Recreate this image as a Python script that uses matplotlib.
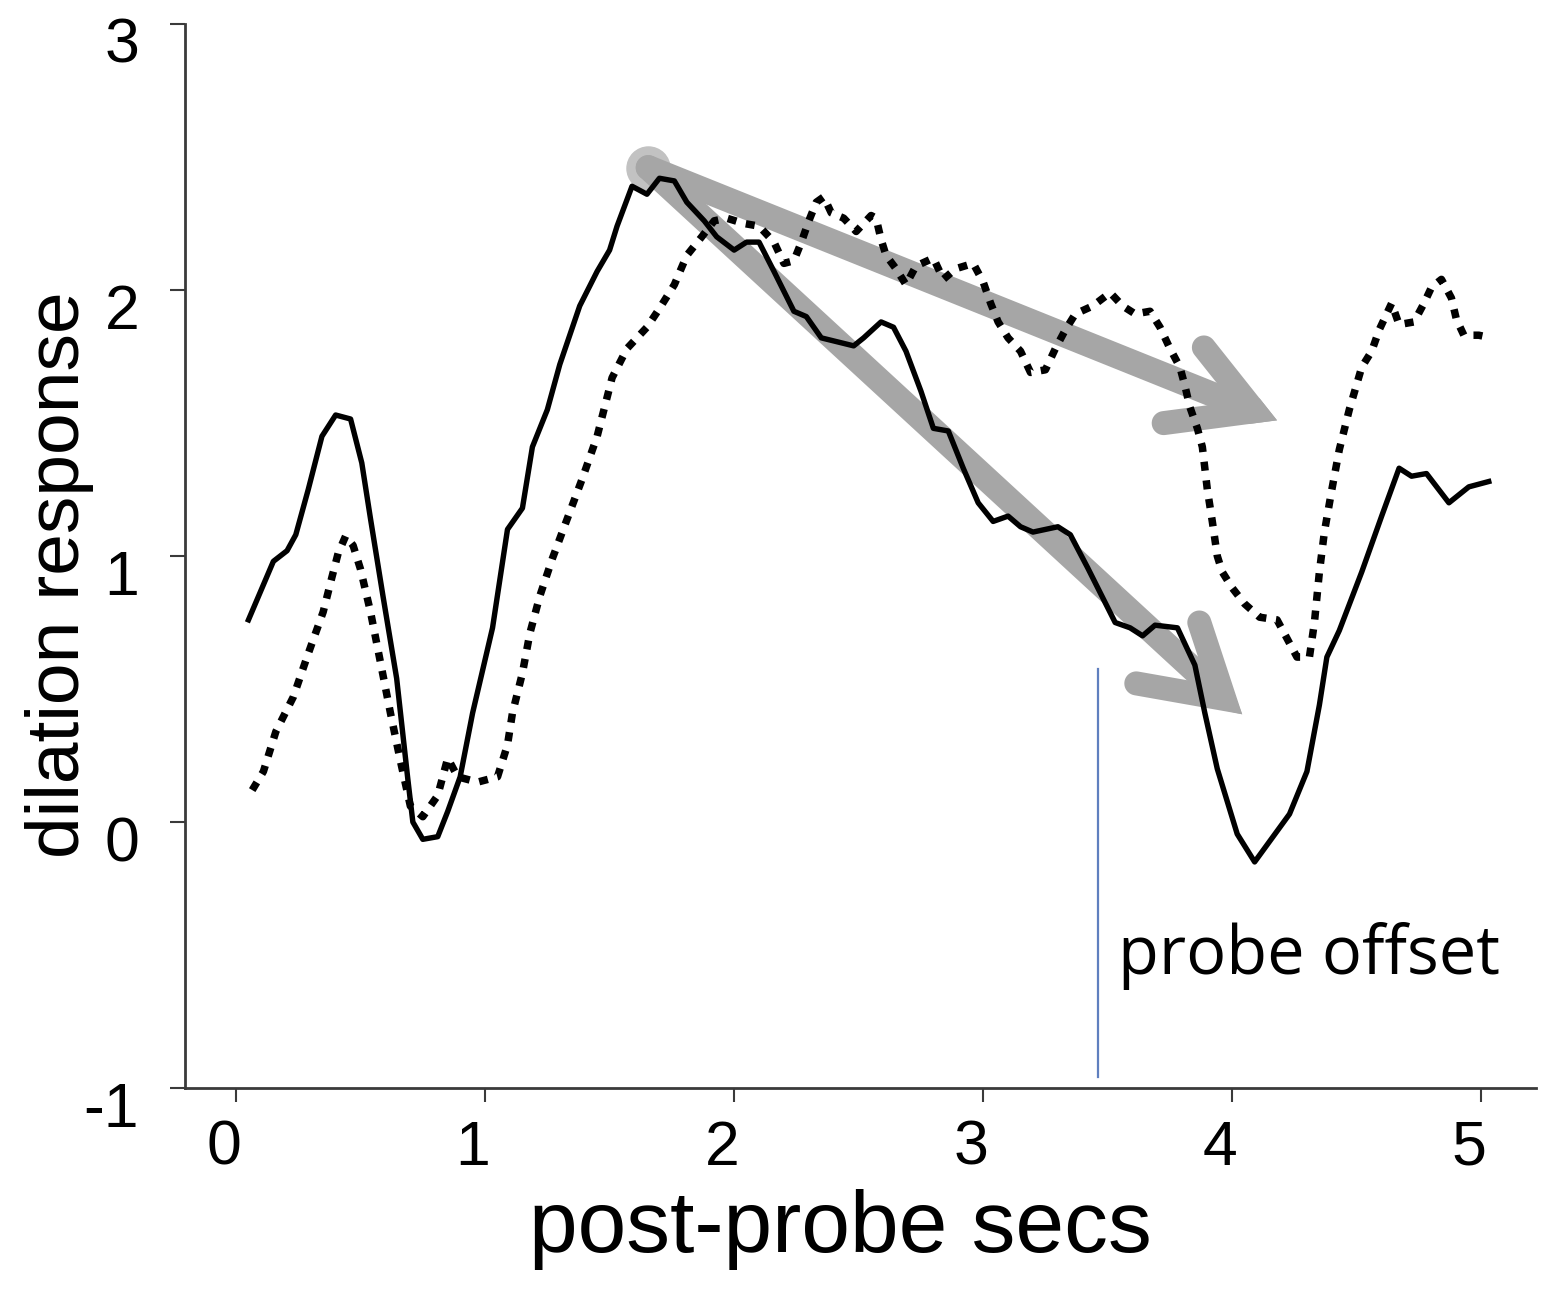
import numpy as np
import matplotlib
matplotlib.use("Agg")
import matplotlib.pyplot as plt
from matplotlib.patches import Polygon
from matplotlib.transforms import ScaledTranslation

# solid trace
solid_x = [0.05, 0.15, 0.205, 0.24, 0.29, 0.345, 0.40, 0.46, 0.505, 0.54, 0.59, 0.645,
           0.69, 0.71, 0.75, 0.81, 0.85, 0.90, 0.95, 1.03, 1.09, 1.15, 1.19, 1.25, 1.30,
           1.38, 1.45, 1.50, 1.53, 1.59, 1.65, 1.70, 1.76, 1.81, 1.88, 1.93, 2.00, 2.05,
           2.10, 2.16, 2.24, 2.29, 2.35, 2.48, 2.52, 2.59, 2.64, 2.69, 2.75, 2.80, 2.86,
           2.92, 2.98, 3.04, 3.10, 3.15, 3.20, 3.30, 3.35, 3.42, 3.53, 3.59, 3.64, 3.69,
           3.78, 3.85, 3.89, 3.94, 4.02, 4.09, 4.16, 4.23, 4.30, 4.35, 4.38, 4.43, 4.52,
           4.60, 4.67, 4.72, 4.78, 4.87, 4.95, 5.03]
solid_y = [0.76, 0.98, 1.02, 1.08, 1.25, 1.45, 1.53, 1.515, 1.35, 1.14, 0.85, 0.54,
           0.16, 0.00, -0.065, -0.055, 0.04, 0.17, 0.41, 0.73, 1.10, 1.18, 1.41, 1.55, 1.72,
           1.94, 2.07, 2.15, 2.24, 2.39, 2.36, 2.42, 2.41, 2.33, 2.26, 2.20, 2.15, 2.18,
           2.18, 2.07, 1.92, 1.90, 1.82, 1.79, 1.82, 1.88, 1.86, 1.77, 1.62, 1.48, 1.47,
           1.33, 1.20, 1.13, 1.15, 1.11, 1.09, 1.11, 1.08, 0.955, 0.75, 0.73, 0.70, 0.74,
           0.73, 0.59, 0.41, 0.20, -0.045, -0.15, -0.06, 0.03, 0.19, 0.44, 0.62, 0.72, 0.94,
           1.15, 1.33, 1.30, 1.31, 1.20, 1.26, 1.28]

# dotted trace
dot_x = [0.065, 0.11, 0.16, 0.23, 0.285, 0.35, 0.385, 0.41, 0.44, 0.47, 0.50, 0.54,
         0.58, 0.62, 0.66, 0.70, 0.75, 0.81, 0.85, 0.89, 0.97, 1.05, 1.09, 1.11, 1.15,
         1.18, 1.22, 1.27, 1.33, 1.39, 1.45, 1.51, 1.57, 1.65, 1.70, 1.76, 1.81, 1.87,
         1.92, 1.97, 2.04, 2.10, 2.16, 2.20, 2.24, 2.27, 2.30, 2.33, 2.36, 2.39, 2.44,
         2.49, 2.55, 2.57, 2.59, 2.61, 2.65, 2.69, 2.73, 2.80, 2.84, 2.89, 2.96, 3.00,
         3.03, 3.06, 3.10, 3.15, 3.19, 3.25, 3.29, 3.33, 3.37, 3.44, 3.51, 3.56, 3.61,
         3.67, 3.71, 3.75, 3.79, 3.81, 3.83, 3.86, 3.88, 3.89, 3.90, 3.92, 3.94, 3.96,
         4.00, 4.05, 4.11, 4.18, 4.22, 4.26, 4.31, 4.33, 4.35, 4.37, 4.40, 4.43, 4.47,
         4.52, 4.56, 4.59, 4.64, 4.67, 4.73, 4.77, 4.80, 4.84, 4.88, 4.90, 4.93, 4.99, 5.04]
dot_y = [0.12, 0.19, 0.34, 0.47, 0.62, 0.79, 0.92, 1.01, 1.075, 1.04, 0.95, 0.79,
         0.60, 0.41, 0.23, 0.06, 0.02, 0.10, 0.24, 0.17, 0.15, 0.17, 0.29, 0.41, 0.56,
         0.71, 0.85, 0.99, 1.14, 1.29, 1.45, 1.67, 1.78, 1.86, 1.93, 2.02, 2.13, 2.20,
         2.26, 2.27, 2.25, 2.24, 2.18, 2.10, 2.11, 2.18, 2.26, 2.33, 2.35, 2.29, 2.27,
         2.22, 2.28, 2.27, 2.19, 2.13, 2.08, 2.02, 2.09, 2.12, 2.04, 2.08, 2.10, 2.03,
         1.95, 1.88, 1.82, 1.77, 1.69, 1.70, 1.78, 1.85, 1.91, 1.94, 1.99, 1.94, 1.91,
         1.92, 1.86, 1.78, 1.71, 1.64, 1.56, 1.48, 1.41, 1.33, 1.25, 1.13, 1.00, 0.94,
         0.88, 0.82, 0.77, 0.76, 0.69, 0.62, 0.62, 0.75, 0.94, 1.09, 1.25, 1.40, 1.55,
         1.71, 1.77, 1.85, 1.95, 1.87, 1.88, 1.95, 2.01, 2.04, 1.97, 1.89, 1.83, 1.83, 1.82]

# annotation arrows: start, tip, two head arms (back ends)
arrow_start = (1.655, 2.46)
upper_tip = (4.18, 1.51)
upper_arms = [(3.89, 1.78), (3.73, 1.50)]
lower_tip = (4.04, 0.405)
lower_arms = [(3.87, 0.745), (3.62, 0.52)]

probe_offset_x = 3.46
xticks = [0, 1, 2, 3, 4, 5]
yticks = [-1, 0, 1, 2, 3]

fig = plt.figure(figsize=(15.53, 12.89), dpi=100)
ax = fig.add_axes([0.1191, 0.1559, 0.870, 0.8255])
ax.set_xlim(-0.205, 5.22)
ax.set_ylim(-1, 3)

gray = "#a6a6a6"


def to_px(p):
    return ax.transData.transform(p)


def head_arm(back, other_back, tip, w=24):
    # band of width w with a round back end; its outer edge runs into the sharp tip
    b, o, t = to_px(back), to_px(other_back), to_px(tip)
    e0 = (t - b) / np.hypot(*(t - b))
    m0 = np.array([-e0[1], e0[0]])
    if np.dot(m0, o - b) < 0:
        m0 = -m0
    p_out = b - m0 * w / 2
    e = (t - p_out) / np.hypot(*(t - p_out))
    m = np.array([-e[1], e[0]])
    if np.dot(m, m0) < 0:
        m = -m
    t_in = t + m * w - e * w * 0.6
    c = p_out + m * w / 2
    ang = np.linspace(0, np.pi, 24)
    cap = [c + (np.cos(a) * m - np.sin(a) * e) * w / 2 for a in ang]
    pts = np.array([t, t_in] + cap + [p_out])
    ax.add_patch(Polygon(ax.transData.inverted().transform(pts), closed=True,
                         fc=gray, ec="none", zorder=2))


ax.plot([arrow_start[0]], [arrow_start[1]], "o", color="#c2c2c2", ms=31, zorder=1)
for tip, arms in [(upper_tip, upper_arms), (lower_tip, lower_arms)]:
    s, t = to_px(arrow_start), to_px(tip)
    e = (t - s) / np.hypot(*(t - s))
    shaft_end = ax.transData.inverted().transform(t - e * 40)
    ax.plot([arrow_start[0], shaft_end[0]], [arrow_start[1], shaft_end[1]], color=gray,
            lw=18, solid_capstyle="round", zorder=2)
    head_arm(arms[0], arms[1], tip)
    head_arm(arms[1], arms[0], tip)

ax.plot(solid_x, solid_y, color="black", lw=3.9, zorder=4, solid_joinstyle="round")
ax.plot(dot_x, dot_y, color="black", lw=5.4, linestyle=(0, (1.2, 1.3)),
        dash_capstyle="butt", zorder=3)

ax.plot([probe_offset_x, probe_offset_x], [-0.96, 0.575], color="#5f7fbf", lw=1.6, zorder=3)
ax.text(3.54, -0.57, "probe offset", family="Open Sans", fontsize=48,
        ha="left", va="baseline")

ax.set_xticks(xticks)
ax.set_yticks(yticks)
ax.set_xticklabels([str(t) for t in xticks])
ax.set_yticklabels([str(t) for t in yticks])

for s in ["top", "right"]:
    ax.spines[s].set_visible(False)
for s in ["left", "bottom"]:
    ax.spines[s].set_color("#3a3a3a")
    ax.spines[s].set_linewidth(2)

ax.tick_params(axis="x", length=10, width=1.5, color="#3a3a3a", pad=12,
               labelsize=45, labelfontfamily="Liberation Sans")
ax.tick_params(axis="y", length=11, width=1.5, color="#3a3a3a", pad=22,
               labelsize=45, labelfontfamily="Liberation Sans")

# labels sit slightly off their ticks in the original
for lab in ax.get_xticklabels():
    lab.set_transform(lab.get_transform() + ScaledTranslation(-0.12, 0, fig.dpi_scale_trans))
for lab in ax.get_yticklabels():
    lab.set_transform(lab.get_transform() + ScaledTranslation(0, -0.16, fig.dpi_scale_trans))

ax.set_xlabel("post-probe secs", fontsize=63, family="Liberation Sans")
ax.xaxis.set_label_coords(0.485, -0.095)
ax.set_ylabel("dilation response", fontsize=54, family="Liberation Sans")
ax.yaxis.set_label_coords(-0.067, 0.482)

fig.savefig("out.png", dpi=100)
